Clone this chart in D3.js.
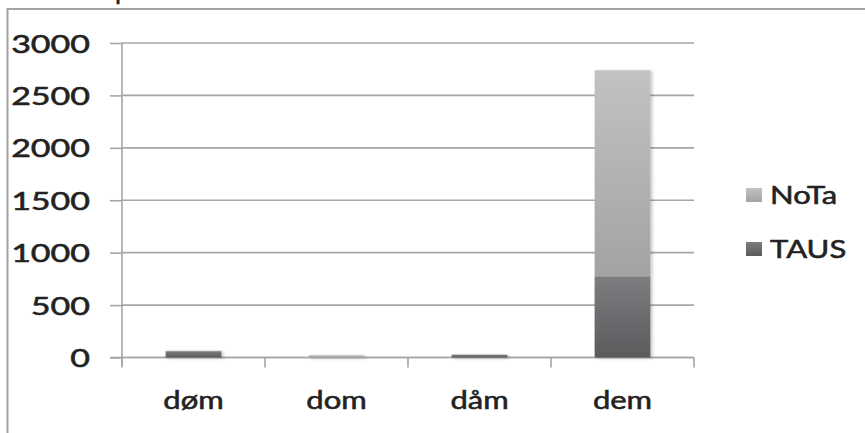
<!DOCTYPE html>
<html>
<head>
<meta charset="utf-8">
<script src="https://cdn.jsdelivr.net/npm/d3@7"></script>
<style>
  html, body { margin: 0; padding: 0; background: #fff; }
  svg { display: block; }
  text { font-family: "Lato", "Open Sans", sans-serif; fill: #222; stroke: #222; stroke-width: 0.55px; }
</style>
</head>
<body>
<svg id="chart" width="865" height="433"></svg>
<script>
// Counts per word form, split by corpus
const categories = ["døm", "dom", "dåm", "dem"];
const tausValues = [60, 0, 25, 775];
const notaValues = [5, 22, 5, 1965];
const seriesNames = ["TAUS", "NoTa"];
const yTickValues = [0, 500, 1000, 1500, 2000, 2500, 3000];

const rows = categories.map((c, i) => ({ cat: c, TAUS: tausValues[i], NoTa: notaValues[i] }));

const svg = d3.select("#chart");
const W = 865, H = 433;
const plot = { left: 122, right: 694, top: 43, bottom: 357.5 };
const textStretch = 1.24;
const numberStretch = 1.36;
const fontSize = 25;

const x = d3.scaleBand()
  .domain(categories)
  .range([plot.left, plot.right])
  .paddingInner(0.61)
  .paddingOuter(0.305);

const y = d3.scaleLinear()
  .domain([0, 3000])
  .range([plot.bottom, plot.top]);

// gradients and shadow
const defs = svg.append("defs");
const fills = {
  TAUS: ["#7d7d80", "#5b5b5e"],
  NoTa: ["#c2c2c4", "#a3a3a6"]
};
seriesNames.forEach(name => {
  const g = defs.append("linearGradient")
    .attr("id", "grad-" + name)
    .attr("x1", 0).attr("y1", 0).attr("x2", 0).attr("y2", 1);
  g.append("stop").attr("offset", "0%").attr("stop-color", fills[name][0]);
  g.append("stop").attr("offset", "100%").attr("stop-color", fills[name][1]);
});
const shadow = defs.append("filter").attr("id", "barShadow")
  .attr("x", "-20%").attr("y", "-5%").attr("width", "140%").attr("height", "110%");
shadow.append("feDropShadow")
  .attr("dx", 2).attr("dy", 1).attr("stdDeviation", 1.5)
  .attr("flood-color", "#000").attr("flood-opacity", 0.22);

// outer chart frame
svg.append("path")
  .attr("d", `M7.5,${H + 5} V9 H${W + 5}`)
  .attr("fill", "none")
  .attr("stroke", "#a3a3a3")
  .attr("stroke-width", 2);

// heading glyph cut off at the top edge
svg.append("text")
  .attr("x", 115).attr("y", -1)
  .attr("font-size", 26)
  .text("p");

// horizontal gridlines
svg.append("g")
  .selectAll("line")
  .data(yTickValues)
  .join("line")
  .attr("x1", plot.left).attr("x2", plot.right)
  .attr("y1", d => y(d)).attr("y2", d => y(d))
  .attr("stroke", "#a6a6a6")
  .attr("stroke-width", 1.6);

// y axis with labels
const yAxis = svg.append("g")
  .attr("transform", `translate(${plot.left},0)`)
  .call(d3.axisLeft(y).tickValues(yTickValues).tickSize(12).tickPadding(20).tickFormat(d3.format("d")));
yAxis.select(".domain")
  .attr("d", `M0,${plot.top} V${plot.bottom + 9}`)
  .attr("stroke", "#a6a6a6").attr("stroke-width", 1.6);
yAxis.selectAll(".tick line").attr("stroke", "#a6a6a6").attr("stroke-width", 1.6);
yAxis.selectAll(".tick text")
  .attr("font-size", fontSize)
  .attr("font-family", "Lato, sans-serif")
  .attr("fill", "#222")
  .attr("dy", "0.36em")
  .each(function () {
    const t = d3.select(this);
    const xx = +t.attr("x");
    t.attr("x", null)
      .attr("transform", `translate(${xx},0) scale(${numberStretch},1)`);
  });

// x axis: baseline, boundary ticks, labels
const xAxis = svg.append("g").attr("transform", `translate(0,${plot.bottom})`);
xAxis.append("line")
  .attr("x1", plot.left - 12).attr("x2", plot.right)
  .attr("stroke", "#a6a6a6").attr("stroke-width", 1.6);
const bounds = d3.range(categories.length + 1).map(i => plot.left + i * x.step());
xAxis.selectAll("line.bound")
  .data(bounds)
  .join("line")
  .attr("class", "bound")
  .attr("x1", d => d).attr("x2", d => d)
  .attr("y1", 0).attr("y2", 10)
  .attr("stroke", "#a6a6a6").attr("stroke-width", 1.6);
xAxis.selectAll("text.cat")
  .data(categories)
  .join("text")
  .attr("class", "cat")
  .attr("transform", d => `translate(${x(d) + x.bandwidth() / 2},51) scale(${textStretch},1)`)
  .attr("text-anchor", "middle")
  .attr("font-size", fontSize)
  .text(d => d);

// stacked bars
const stacked = d3.stack().keys(seriesNames)(rows);
const bars = svg.append("g").attr("filter", "url(#barShadow)");
stacked.forEach(layer => {
  bars.append("g")
    .selectAll("rect")
    .data(layer.filter(d => d[1] > d[0]))
    .join("rect")
    .attr("x", d => x(d.data.cat))
    .attr("width", x.bandwidth())
    .attr("y", d => y(d[1]))
    .attr("height", d => y(d[0]) - y(d[1]))
    .attr("fill", `url(#grad-${layer.key})`);
});

// legend
const legendItems = ["NoTa", "TAUS"];
const legend = svg.append("g");
legendItems.forEach((name, i) => {
  const cy = 195 + i * 54;
  legend.append("rect")
    .attr("x", 746).attr("y", cy - 7)
    .attr("width", 16).attr("height", 14)
    .attr("fill", `url(#grad-${name})`);
  legend.append("text")
    .attr("transform", `translate(770,${cy}) scale(${textStretch},1)`)
    .attr("dy", "0.36em")
    .attr("font-size", fontSize)
    .text(name);
});
</script>
</body>
</html>
